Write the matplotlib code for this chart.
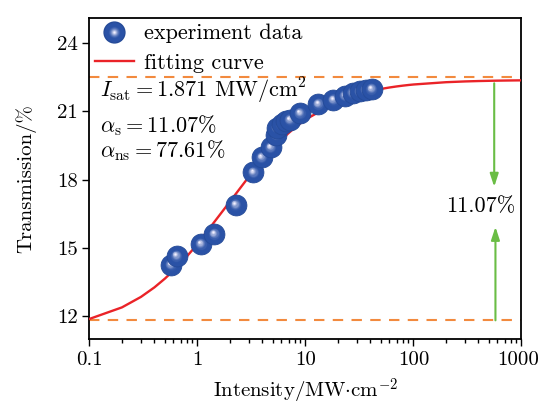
import numpy as np
import matplotlib
matplotlib.use('Agg')
import matplotlib.pyplot as plt
import matplotlib.transforms as mtransforms
from matplotlib.lines import Line2D
from matplotlib.legend_handler import HandlerTuple
from matplotlib.colors import to_rgb

plt.rcParams['font.family'] = ['cmr10']
plt.rcParams['mathtext.fontset'] = 'cm'
plt.rcParams['axes.formatter.use_mathtext'] = True
plt.rcParams['font.size'] = 16

# measured points (intensity MW/cm^2, transmission %)
intensity = [0.568, 0.642, 1.077, 1.431, 2.258, 3.286, 3.93, 4.76, 5.33, 5.45,
             6.02, 6.60, 7.19, 8.89, 13.14, 18.09, 23.2, 27.4, 31.96, 36.3, 41.0]
transmission = [14.26, 14.65, 15.17, 15.61, 16.90, 18.32, 18.98, 19.42, 19.98, 20.29,
                20.45, 20.57, 20.63, 20.92, 21.33, 21.51, 21.70, 21.82, 21.89, 21.94, 21.99]

# fit parameters
I_sat = 1.871
alpha_s = 11.07
alpha_ns = 77.61

T_low = 11.82
T_high = 22.50
arrow_x = [560, 575]

blue = '#2A52A6'
red = '#EA2328'
orange = '#F28A3E'
green = '#6ABD45'

fig = plt.figure(figsize=(5.42, 4.05), dpi=100)
ax = fig.add_axes([0.165, 0.163, 0.797, 0.792])

# fitting curve
I_fit = np.concatenate([np.arange(1, 10) * 10.0 ** k for k in range(-1, 3)] + [np.array([1000.0])])
T_fit = 100 - alpha_ns - alpha_s / (1 + I_fit / I_sat)
ax.plot(I_fit, T_fit, color=red, lw=1.7, zorder=3)

# dashed reference lines
ax.axhline(T_low, color=orange, lw=1.5, dashes=(5, 4), zorder=2)
ax.axhline(T_high, color=orange, lw=1.5, dashes=(5, 4), zorder=2)

# shaded balls
base = np.array(to_rgb(blue))
hi = np.array(to_rgb('#F2F0FF'))
size = 15.0
nl = 10
for i, (x, y) in enumerate(zip(intensity, transmission)):
    z = 4 + i * 0.01
    ax.plot(x, y, 'o', ms=size, color=blue, mec='#244A98', mew=0.6, zorder=z)
    for k in range(1, nl + 1):
        f = k / nl
        r = size * 0.55 * (1 - f) + 1.2
        c = base + (hi - base) * f ** 1.6
        tr = mtransforms.offset_copy(ax.transData, fig=fig, x=-1.2 * f, y=1.5 * f, units='points')
        ax.plot(x, y, 'o', ms=r, color=c, mec='none', transform=tr, zorder=z + 0.0001 * k)

# legend
ball = [Line2D([], [], ls='none', marker='o', ms=15, color=blue, mec='#244A98')]
for k in range(1, nl + 1):
    f = k / nl
    ball.append(Line2D([], [], ls='none', marker='o', ms=15 * 0.55 * (1 - f) + 1.2,
                       color=base + (hi - base) * f ** 1.6, mec='none'))
fit_handle = Line2D([], [], color=red, lw=1.7)
ax.legend([tuple(ball), fit_handle], ['experiment data', 'fitting curve'],
          handler_map={tuple: HandlerTuple(ndivide=1)}, loc='upper left',
          frameon=False, borderaxespad=0.05, borderpad=0.2, handlelength=1.75,
          handletextpad=0.45, labelspacing=0.45, fontsize=16)

# annotations
ax.text(0.125, 21.9, r'$I_{\rm sat}=1.871$ MW/cm$^2$', fontsize=16, va='center')
ax.text(0.125, 20.4, r'$\alpha_{\rm s}=11.07\%$', fontsize=16, va='center')
ax.text(0.125, 19.3, r'$\alpha_{\rm ns}=77.61\%$', fontsize=16, va='center')

arrow_style = '-|>,head_length=0.55,head_width=0.18'
ax.annotate('', xy=(arrow_x[0], 17.69), xytext=(arrow_x[0], 22.24),
            arrowprops=dict(arrowstyle=arrow_style, color=green, lw=1.5,
                            shrinkA=0, shrinkB=0, mutation_scale=14))
ax.annotate('', xy=(arrow_x[1], 15.93), xytext=(arrow_x[1], T_low),
            arrowprops=dict(arrowstyle=arrow_style, color=green, lw=1.5,
                            shrinkA=0, shrinkB=0, mutation_scale=14))
ax.text(422, 16.83, r'11.07%', fontsize=16, ha='center', va='center')

ax.set_xscale('log')
ax.set_xlim(0.1, 1000)
ax.set_ylim(11.0, 25.1)
ax.set_xticks([0.1, 1, 10, 100, 1000])
ax.set_xticklabels(['0.1', '1', '10', '100', '1000'])
ax.set_yticks([12, 15, 18, 21, 24])
ax.set_yticklabels(['12', '15', '18', '21', '24'])
ax.tick_params(which='major', length=5, width=1.0, direction='out', labelsize=15)
ax.tick_params(which='minor', length=3, width=1.0, direction='out')
for s in ax.spines.values():
    s.set_linewidth(1.3)

# keep the last x label inside the figure
last = ax.get_xticklabels()[-1]
last.set_transform(last.get_transform() + mtransforms.ScaledTranslation(-3 / 100, 0, fig.dpi_scale_trans))

ax.set_xlabel(r'Intensity/MW$\cdot$cm$^{-2}$', fontsize=15, labelpad=6)
ax.set_ylabel('Transmission/%', fontsize=15, labelpad=15)

fig.savefig('out.png', dpi=100)
